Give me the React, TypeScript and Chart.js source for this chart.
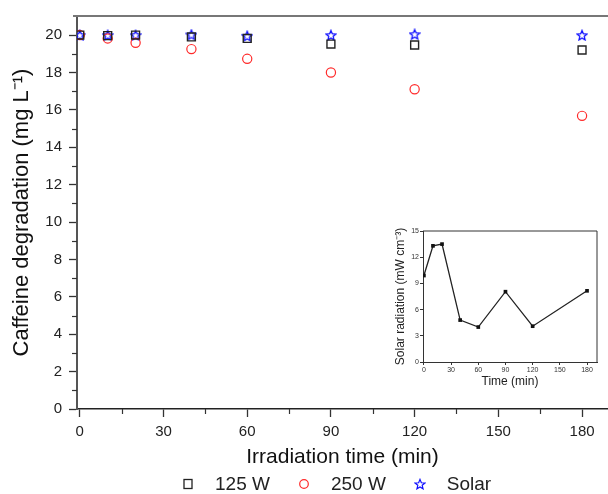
import React, { useEffect, useRef } from "react";
import { Chart, registerables } from "chart.js";

Chart.register(...registerables);

// ---- data ----
const times = [0, 10, 20, 40, 60, 90, 120, 180];
const w125 = [20.0, 19.97, 20.0, 19.9, 19.82, 19.52, 19.47, 19.2];
const w250 = [20.0, 19.82, 19.59, 19.25, 18.73, 18.0, 17.1, 15.68];
const solar = [20.0, 20.0, 20.0, 20.03, 19.96, 20.0, 20.05, 20.0];

const radiationTimes = [0, 10, 20, 40, 60, 90, 120, 180];
const radiation = [9.9, 13.3, 13.5, 4.8, 4.0, 8.05, 4.1, 8.15];

const xTicks = [0, 30, 60, 90, 120, 150, 180];
const xMinorTicks = [15, 45, 75, 105, 135, 165];
const yTicks = [0, 2, 4, 6, 8, 10, 12, 14, 16, 18, 20];
const yMinorTicks = [1, 3, 5, 7, 9, 11, 13, 15, 17, 19];
const insetXTicks = [0, 30, 60, 90, 120, 150, 180];
const insetYTicks = [0, 3, 6, 9, 12, 15];

const seriesLabels = ["125 W", "250 W", "Solar"];

const FONT = "'Liberation Sans', Arial, Helvetica, sans-serif";

function makeStar(size: number, color: string, lw: number) {
  const c = document.createElement("canvas");
  c.width = size;
  c.height = size;
  const ctx = c.getContext("2d")!;
  const cx = size / 2;
  const cy = size / 2 + 0.6;
  const R = size / 2 - 0.8;
  const r = R * 0.45;
  ctx.beginPath();
  for (let i = 0; i < 10; i++) {
    const a = -Math.PI / 2 + (i * Math.PI) / 5;
    const rad = i % 2 ? r : R;
    ctx.lineTo(cx + rad * Math.cos(a), cy + rad * Math.sin(a));
  }
  ctx.closePath();
  ctx.strokeStyle = color;
  ctx.lineWidth = lw;
  ctx.stroke();
  return c;
}

const axisExtras = {
  id: "axisExtras",
  afterDraw(chart: any, _args: any, opts: any) {
    const ctx = chart.ctx;
    const { left, right, top, bottom } = chart.chartArea;
    ctx.save();
    if (opts.topLine) {
      ctx.strokeStyle = opts.topLine.color;
      ctx.lineWidth = opts.topLine.width;
      ctx.beginPath();
      ctx.moveTo(left - 4, top);
      ctx.lineTo(right, top);
      ctx.stroke();
    }
    if (opts.box) {
      ctx.strokeStyle = opts.box.color;
      ctx.lineWidth = opts.box.width;
      ctx.beginPath();
      ctx.moveTo(left, top);
      ctx.lineTo(right, top);
      ctx.lineTo(right, bottom);
      ctx.stroke();
    }
    const xs = chart.scales.x;
    const ys = chart.scales.y;
    ctx.strokeStyle = opts.minorColor || "#333";
    ctx.lineWidth = opts.minorWidth || 1;
    const len = opts.minorLength || 4;
    (opts.xMinor || []).forEach((v: number) => {
      const px = Math.round(xs.getPixelForValue(v)) + 0.5;
      ctx.beginPath();
      ctx.moveTo(px, bottom);
      ctx.lineTo(px, bottom + len);
      ctx.stroke();
    });
    (opts.yMinor || []).forEach((v: number) => {
      const py = Math.round(ys.getPixelForValue(v)) + 0.5;
      ctx.beginPath();
      ctx.moveTo(left, py);
      ctx.lineTo(left - len, py);
      ctx.stroke();
    });
    ctx.restore();
  },
};

function StarIcon() {
  const pts: string[] = [];
  for (let i = 0; i < 10; i++) {
    const a = -Math.PI / 2 + (i * Math.PI) / 5;
    const rad = i % 2 ? 2.3 : 5.2;
    pts.push(`${(6 + rad * Math.cos(a)).toFixed(2)},${(6.6 + rad * Math.sin(a)).toFixed(2)}`);
  }
  return (
    <svg width="12" height="12" style={{ display: "block" }}>
      <polygon points={pts.join(" ")} fill="none" stroke="#1010ff" strokeWidth="1.2" />
    </svg>
  );
}

export default function App() {
  const mainRef = useRef<HTMLCanvasElement>(null);
  const insetRef = useRef<HTMLCanvasElement>(null);

  useEffect(() => {
    const star = makeStar(12, "#1010ff", 1.3);
    const main = new Chart(mainRef.current!, {
      type: "scatter",
      data: {
        datasets: [
          {
            label: seriesLabels[0],
            data: times.map((t, i) => ({ x: t, y: w125[i] })),
            pointStyle: "rect",
            pointRadius: 5.6,
            borderColor: "#222",
            backgroundColor: "rgba(0,0,0,0)",
            borderWidth: 1.4,
          },
          {
            label: seriesLabels[1],
            data: times.map((t, i) => ({ x: t, y: w250[i] })),
            pointStyle: "circle",
            pointRadius: 4.6,
            borderColor: "#ff2a2a",
            backgroundColor: "rgba(0,0,0,0)",
            borderWidth: 1.2,
          },
          {
            label: seriesLabels[2],
            data: times.map((t, i) => ({ x: t, y: solar[i] })),
            pointStyle: star as any,
            pointRadius: 6,
            borderColor: "#1010ff",
            backgroundColor: "rgba(0,0,0,0)",
          },
        ],
      },
      options: {
        animation: false,
        responsive: false,
        maintainAspectRatio: false,
        devicePixelRatio: 1,
        layout: { autoPadding: false, padding: { top: 16, right: 0, left: 0, bottom: 24 } },
        plugins: {
          legend: { display: false },
          tooltip: { enabled: false },
          axisExtras: {
            topLine: { color: "#777", width: 2 },
            xMinor: xMinorTicks,
            yMinor: yMinorTicks,
            minorLength: 5,
            minorColor: "#333",
            minorWidth: 1.2,
          },
        } as any,
        scales: {
          x: {
            type: "linear",
            min: -1,
            max: 189.3,
            afterBuildTicks: (s: any) => {
              s.ticks = xTicks.map((v) => ({ value: v }));
            },
            afterFit: (s: any) => {
              s.height = 61;
              s.paddingRight = 0;
              s.paddingLeft = 0;
            },
            grid: { drawOnChartArea: false, drawTicks: true, tickLength: 8, tickColor: "#333", tickWidth: 1.3 },
            border: { display: true, color: "#222", width: 1.5 },
            ticks: { font: { family: FONT, size: 15 }, color: "#222", padding: 6, maxRotation: 0, autoSkip: false },
            title: {
              display: true,
              text: "Irradiation time (min)",
              font: { family: FONT, size: 21 },
              color: "#111",
              padding: { top: 0, bottom: 0 },
            },
          },
          y: {
            type: "linear",
            min: 0,
            max: 21.02,
            afterBuildTicks: (s: any) => {
              s.ticks = yTicks.map((v) => ({ value: v }));
            },
            afterFit: (s: any) => {
              s.width = 77;
            },
            grid: { drawOnChartArea: false, drawTicks: true, tickLength: 8, tickColor: "#333", tickWidth: 1.3 },
            border: { display: true, color: "#555", width: 2 },
            ticks: { font: { family: FONT, size: 15 }, color: "#222", padding: 7, autoSkip: false },
            title: {
              display: true,
              text: "Caffeine degradation (mg L\u207B\u00B9)",
              font: { family: FONT, size: 22 },
              color: "#111",
              padding: { top: 9, bottom: 0 },
            },
          },
        },
      },
      plugins: [axisExtras],
    });

    const inset = new Chart(insetRef.current!, {
      type: "scatter",
      data: {
        datasets: [
          {
            label: "Solar radiation",
            data: radiationTimes.map((t, i) => ({ x: t, y: radiation[i] })),
            showLine: true,
            borderColor: "#222",
            borderWidth: 1.3,
            pointStyle: "rect",
            pointRadius: 2.6,
            pointBackgroundColor: "#111",
            pointBorderColor: "#111",
            pointBorderWidth: 0,
          },
        ],
      },
      options: {
        animation: false,
        responsive: false,
        maintainAspectRatio: false,
        devicePixelRatio: 1,
        layout: { autoPadding: false, padding: { top: 9, right: 6, left: 0, bottom: 0 } },
        plugins: {
          legend: { display: false },
          tooltip: { enabled: false },
          axisExtras: { box: { color: "#333", width: 1 } },
        } as any,
        scales: {
          x: {
            type: "linear",
            min: -1,
            max: 191,
            afterBuildTicks: (s: any) => {
              s.ticks = insetXTicks.map((v) => ({ value: v }));
            },
            afterFit: (s: any) => {
              s.height = 30;
              s.paddingRight = 0;
              s.paddingLeft = 0;
            },
            grid: { drawOnChartArea: false, drawTicks: true, tickLength: 3, tickColor: "#333", tickWidth: 1 },
            border: { display: true, color: "#333", width: 1 },
            ticks: { font: { family: FONT, size: 7 }, color: "#333", padding: 1, maxRotation: 0, autoSkip: false },
            title: {
              display: true,
              text: "Time (min)",
              font: { family: FONT, size: 12 },
              color: "#222",
              padding: { top: 0, bottom: 3 },
            },
          },
          y: {
            type: "linear",
            min: 0,
            max: 15,
            afterBuildTicks: (s: any) => {
              s.ticks = insetYTicks.map((v) => ({ value: v }));
            },
            afterFit: (s: any) => {
              s.width = 38;
            },
            grid: { drawOnChartArea: false, drawTicks: true, tickLength: 3, tickColor: "#333", tickWidth: 1 },
            border: { display: true, color: "#333", width: 1 },
            ticks: { font: { family: FONT, size: 7 }, color: "#333", padding: 1, autoSkip: false },
            title: {
              display: true,
              text: "Solar radiation (mW cm\u207B\u00B3)",
              font: { family: FONT, size: 12 },
              color: "#222",
              padding: { top: 8, bottom: 0 },
            },
          },
        },
      },
      plugins: [axisExtras],
    });

    return () => {
      main.destroy();
      inset.destroy();
    };
  }, []);

  const legendText: React.CSSProperties = {
    fontFamily: FONT,
    fontSize: 19,
    color: "#222",
    lineHeight: "24px",
    whiteSpace: "nowrap",
  };

  return (
    <div style={{ position: "fixed", left: 0, top: 0, width: 608, height: 494, background: "#fff", overflow: "hidden" }}>
      <canvas ref={mainRef} width={608} height={494} style={{ position: "absolute", left: 0, top: 0, width: 608, height: 494 }} />
      <canvas ref={insetRef} width={218} height={170} style={{ position: "absolute", left: 385, top: 222, width: 218, height: 170 }} />
      <div style={{ position: "absolute", left: 182, top: 472, display: "flex", alignItems: "center", height: 24 }}>
        <svg width="12" height="12" style={{ display: "block" }}>
          <rect x="2" y="1.5" width="8" height="9" fill="none" stroke="#222" strokeWidth="1.3" />
        </svg>
        <span style={{ ...legendText, marginLeft: 21 }}>{seriesLabels[0]}</span>
        <svg width="12" height="12" style={{ display: "block", marginLeft: 28 }}>
          <circle cx="6" cy="6" r="4.3" fill="none" stroke="#ff2a2a" strokeWidth="1.2" />
        </svg>
        <span style={{ ...legendText, marginLeft: 21 }}>{seriesLabels[1]}</span>
        <div style={{ marginLeft: 28 }}>
          <StarIcon />
        </div>
        <span style={{ ...legendText, marginLeft: 21 }}>{seriesLabels[2]}</span>
      </div>
    </div>
  );
}
